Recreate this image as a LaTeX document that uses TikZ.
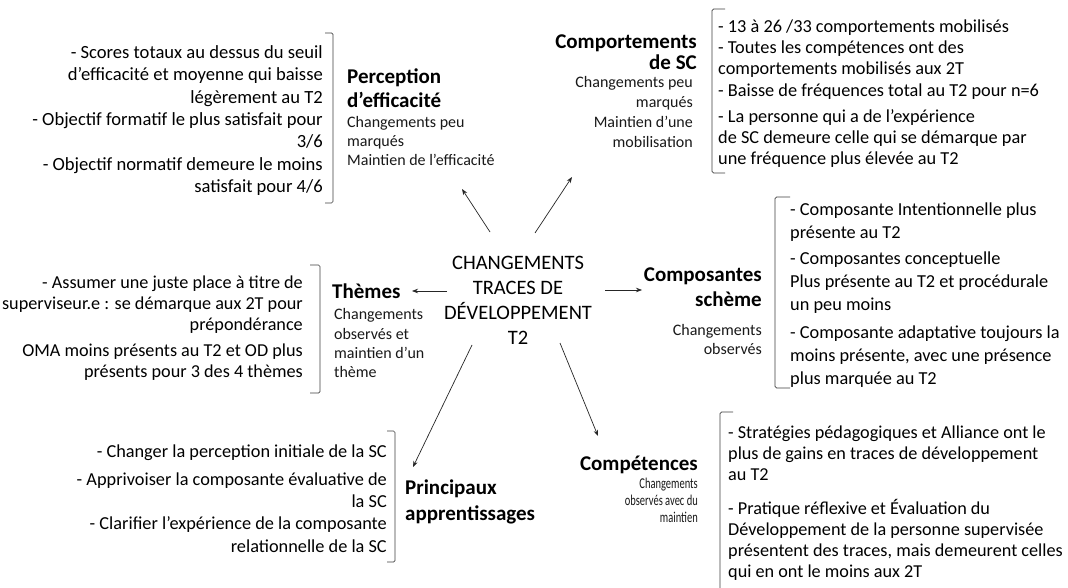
\documentclass[tikz,border=0pt]{standalone}
\usepackage{fontspec}
\setmainfont{Carlito}
\newfontfamily\narrowfont[FakeStretch=0.7]{Carlito}
\usetikzlibrary{arrows.meta}

\tikzset{
  body/.style={font=\fontsize{18.3}{22}\selectfont, inner sep=0pt, text=black},
  heading/.style={font=\bfseries\fontsize{21}{23.5}\selectfont, inner sep=0pt, text=black},
  subtext/.style={font=\fontsize{16}{19}\selectfont, inner sep=0pt, text=black!90},
  hub/.style={font=\fontsize{20.5}{25}\selectfont, inner sep=0pt, align=center},
  bracket/.style={draw=black!75, line width=0.7pt, rounded corners=1.5pt},
  conn/.style={-{Stealth[length=6pt,width=4.5pt]}, line width=0.7pt, draw=black!85},
}

\begin{document}
\begin{tikzpicture}[x=1pt, y=-1pt]
\useasboundingbox[fill=white] (0,0) rectangle (1068,588);

% central theme
\node[hub, anchor=north] (ctr) at (518,255.5)
  {CHANGEMENTS\\ TRACES DE\\ DÉVELOPPEMENT\\ T2};

% perception d'efficacité
\node[heading, anchor=north west, align=left] (pe) at (347,69)
  {Perception\\ d’efficacité};
\node[subtext, anchor=north west, align=left, font=\fontsize{16}{19}\selectfont] (pesub) at (347,116.5)
  {Changements peu\\ marqués\\ Maintien de l’efficacité};
\node[body, anchor=north east, align=right, font=\fontsize{18.6}{22.3}\selectfont] (petxt) at (323,45.5)
  {- Scores totaux au dessus du seuil\\ d’efficacité et moyenne qui baisse\\ légèrement au T2\\
   - Objectif formatif le plus satisfait pour\\ 3/6\\ - Objectif normatif demeure le moins\\ satisfait pour 4/6};
\draw[bracket] (325,33) -- (333,33) -- (333,203) -- (325,203);

% comportements de SC
\node[heading, anchor=north east, align=right, font=\bfseries\fontsize{21}{21}\selectfont] (cs) at (697,35)
  {Comportements\\ de SC};
\node[subtext, anchor=north east, align=right, font=\fontsize{16}{20}\selectfont] (cssub) at (693,76)
  {Changements peu\\ marqués\\ Maintien d’une\\ mobilisation};
\node[body, anchor=north west, align=left, font=\fontsize{18.3}{21.2}\selectfont] (cstxt) at (718,19.5)
  {- 13 à 26 /33 comportements mobilisés\\ - Toutes les compétences ont des\\
   comportements mobilisés aux 2T\\ - Baisse de fréquences total au T2 pour n=6\\[5pt]
   - La personne qui a de l’expérience\\ de SC demeure celle qui se démarque par\\
   une fréquence plus élevée au T2};
\draw[bracket] (725,9) -- (712,9) -- (712,173) -- (725,173);

% thèmes
\node[heading, anchor=north west] (th) at (332,284) {Thèmes};
\node[subtext, anchor=north west, align=left, font=\fontsize{16}{19.3}\selectfont] (thsub) at (334,308.5)
  {Changements\\ observés et\\ maintien d’un\\ thème};
\node[body, anchor=north east, align=right, font=\fontsize{18.2}{21}\selectfont] (thtxt) at (303,275.5)
  {- Assumer une juste place à titre de\\ superviseur.e : se démarque aux 2T pour\\ prépondérance\\[5pt]
   OMA moins présents au T2 et OD plus\\ présents pour 3 des 4 thèmes};
\draw[bracket] (310,265) -- (320,265) -- (320,393) -- (310,393);

% composantes schème
\node[heading, anchor=north east, align=right, font=\bfseries\fontsize{21}{25}\selectfont] (co) at (762,268)
  {Composantes\\ schème};
\node[subtext, anchor=north east, align=right] (cosub) at (762,324)
  {Changements\\ observés};
\node[body, anchor=north west, align=left, font=\fontsize{18.3}{23}\selectfont] (cotxt) at (790,202.5)
  {- Composante Intentionnelle plus\\ présente au T2\\[3pt]
   - Composantes conceptuelle\\ Plus présente au T2 et procédurale\\ un peu moins\\[5pt]
   - Composante adaptative toujours la\\ moins présente, avec une présence\\ plus marquée au T2};
\draw[bracket] (790,197) -- (775,197) -- (775,388) -- (790,388);

% principaux apprentissages
\node[heading, anchor=north west, align=left, font=\bfseries\fontsize{21}{25.5}\selectfont] (pa) at (405,480)
  {Principaux\\ apprentissages};
\node[body, anchor=north east, align=right, font=\fontsize{18.3}{22.3}\selectfont] (patxt) at (387,445)
  {- Changer la perception initiale de la SC\\[5pt]
   - Apprivoiser la composante évaluative de\\ la SC\\
   - Clarifier l’expérience de la composante\\ relationnelle de la SC};
\draw[bracket] (387,431) -- (395,431) -- (395,562) -- (387,562);

% compétences
\node[heading, anchor=north east] (cp) at (698,456) {Compétences};
\node[subtext, anchor=north east, align=right, font=\narrowfont\fontsize{15}{17}\selectfont] (cpsub) at (698,477.5)
  {Changements\\ observés avec du\\ maintien};
\node[body, anchor=north west, align=left, font=\fontsize{18.2}{21}\selectfont] (cptxt) at (728,425.5)
  {- Stratégies pédagogiques et Alliance ont le\\ plus de gains en traces de développement\\ au T2\\[13pt]
   - Pratique réflexive et Évaluation du\\ Développement de la personne supervisée\\
   présentent des traces, mais demeurent celles\\ qui en ont le moins aux 2T};
\draw[bracket] (733,412) -- (720,412) -- (720,590);

% connectors from the centre to each theme
\coordinate (ctr-nw) at (490,232);
\coordinate (pe-end) at (462,189);
\coordinate (ctr-ne) at (535,233);
\coordinate (cs-end) at (572,177);
\coordinate (ctr-w)  at (447,291);
\coordinate (th-end) at (412,291);
\coordinate (ctr-e)  at (605,290);
\coordinate (co-end) at (642,290);
\coordinate (ctr-sw) at (472,345);
\coordinate (pa-end) at (413,467);
\coordinate (ctr-se) at (560,343);
\coordinate (cp-end) at (598,436);

\draw[conn] (ctr-nw) -- (pe-end);
\draw[conn] (ctr-ne) -- (cs-end);
\draw[conn] (ctr-w)  -- (th-end);
\draw[conn] (ctr-e)  -- (co-end);
\draw[conn] (ctr-sw) -- (pa-end);
\draw[conn] (ctr-se) -- (cp-end);
\end{tikzpicture}
\end{document}
